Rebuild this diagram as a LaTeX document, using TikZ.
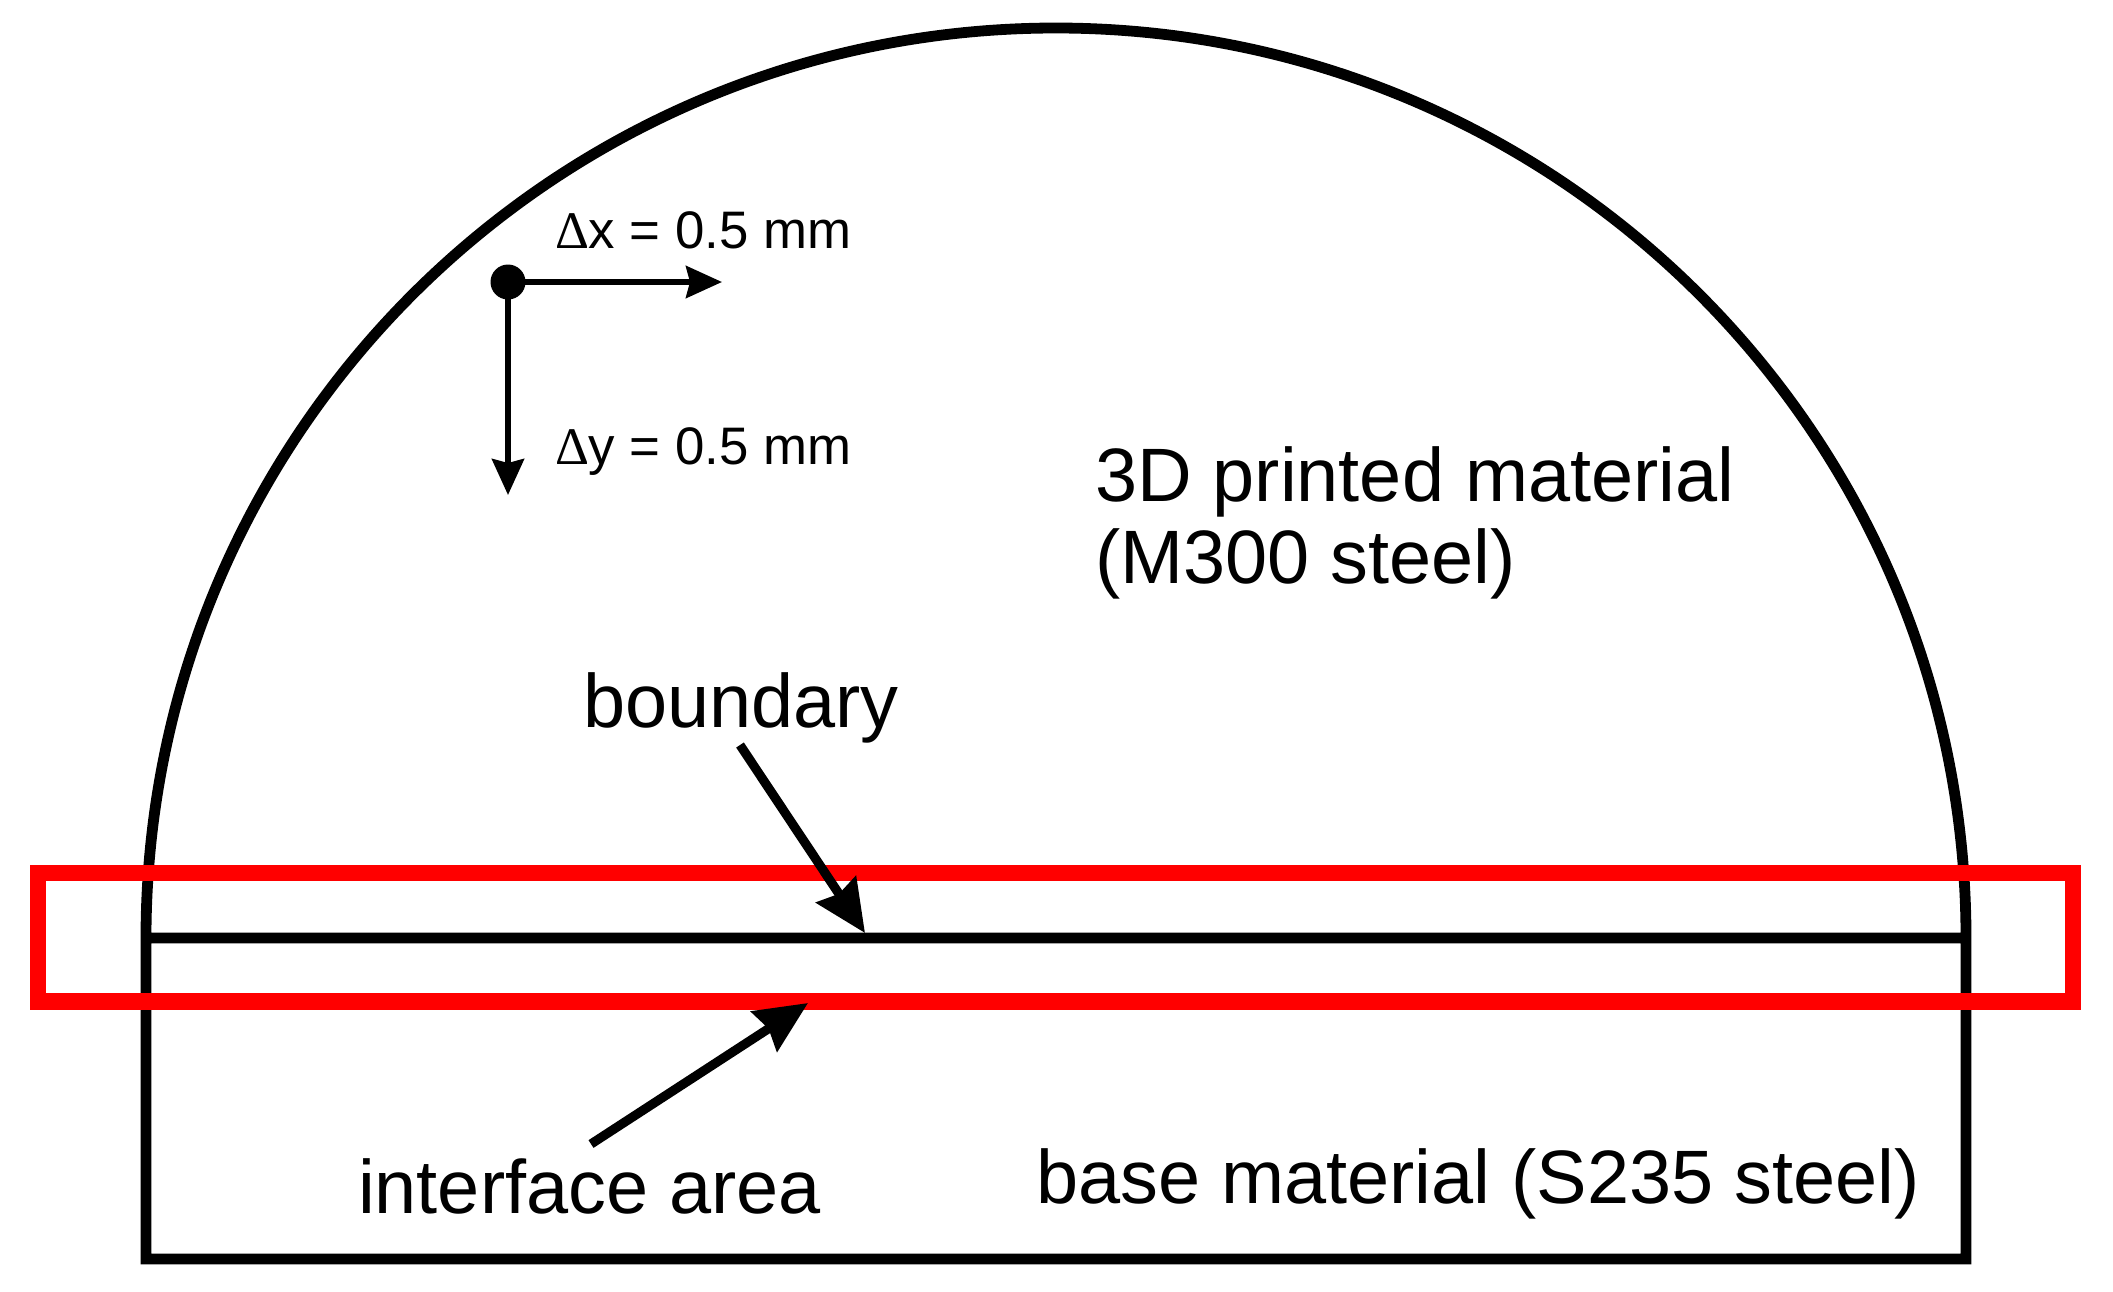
\documentclass[tikz,border=0pt]{standalone}
\usepackage{fontspec}
\setmainfont{Liberation Sans}
\newfontfamily\deltafont{Liberation Serif}
\usetikzlibrary{arrows.meta}
\tikzset{
  lab/.style={anchor=base west,inner sep=0pt,outer sep=0pt,font=\fontsize{37.85pt}{45pt}\selectfont,text=black},
  smalllab/.style={anchor=base west,inner sep=0pt,outer sep=0pt,font=\fontsize{26.4pt}{32pt}\selectfont,text=black},
  outline/.style={draw=black,line width=5.4pt,line join=miter},
  redbox/.style={draw=red,line width=8.4pt,line join=miter},
  thinarrow/.style={draw=black,line width=2.8pt,-{Stealth[length=18pt,width=16pt,inset=2pt]}},
  fatarrow/.style={draw=black,line width=4.6pt,-{Stealth[length=26pt,width=23.5pt,inset=2.5pt]}},
  origin/.style={circle,fill=black,draw=none,minimum size=17.5pt,inner sep=0pt,outer sep=0pt}
}
\begin{document}
\begin{tikzpicture}[x=0.5pt,y=-0.5pt]
\path[use as bounding box,fill=white] (0,0) rectangle (2113,1291);
% dome, base and boundary line
\draw[outline] (146,938) -- (146,1259) -- (1966,1259) -- (1966,938)
   arc[start angle=0,end angle=-180,x radius=910,y radius=910] -- (1966,938);
% red interface box
\draw[redbox] (38,873) rectangle (2073,1001.5);
% labels
\node[smalllab] (dx) at (555,248) {{\deltafont Δ}x = 0.5 mm};
\node[smalllab] (dy) at (555,464) {{\deltafont Δ}y = 0.5 mm};
\node[lab] (printed) at (1095,501) {3D printed material};
\node[lab] (m300) at (1095,583) {(M300 steel)};
\node[lab] (boundary) at (583,727) {boundary};
\node[lab] (interface) at (358,1213) {interface area};
\node[lab] (base) at (1036,1203) {base material (S235 steel)};
% grid origin and step arrows
\node[origin] (o) at (508,282) {};
\coordinate (xtip) at (722,282);
\coordinate (ytip) at (508,495);
\draw[thinarrow] (o.center) -- (xtip);
\draw[thinarrow] (o.center) -- (ytip);
% leader arrows
\coordinate (bstart) at (740,745);
\coordinate (btip) at (865,933);
\coordinate (istart) at (591,1144);
\coordinate (itip) at (808,1003);
\draw[fatarrow] (bstart) -- (btip);
\draw[fatarrow] (istart) -- (itip);
\end{tikzpicture}
\end{document}
